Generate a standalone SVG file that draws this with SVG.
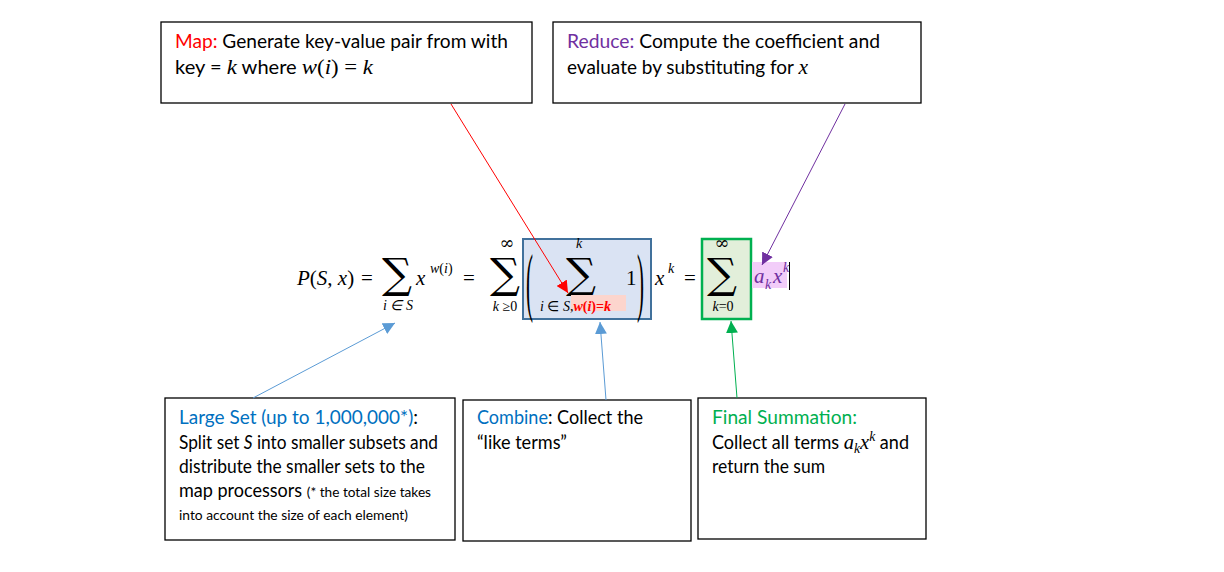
<svg xmlns="http://www.w3.org/2000/svg" width="1224" height="572" viewBox="0 0 1224 572">
<style>
.box{fill:#fff;stroke:#000;stroke-width:1.3}
.t{font-family:Lato,"Liberation Sans",sans-serif;font-size:18.5px;fill:#000}
.sm{font-size:14px}
.m{font-family:"Liberation Serif","DejaVu Serif",serif;font-size:21px;fill:#000}
.i{font-style:italic}
.sig{font-family:"DejaVu Serif",serif;font-size:42px;fill:#000}
.lim{font-family:"Liberation Serif",serif;font-size:14px;fill:#000}
.inf{font-family:"DejaVu Serif",serif;font-size:18px;fill:#000}
.pu{fill:#7030a0}
.con{fill:none;stroke-width:1}
</style>
<defs>
<marker id="aR" markerUnits="userSpaceOnUse" markerWidth="14" markerHeight="12" refX="12" refY="6" orient="auto"><path d="M0,0 L12,6 L0,12 Z" fill="#ff0000"/></marker>
<marker id="aP" markerUnits="userSpaceOnUse" markerWidth="14" markerHeight="12" refX="12" refY="6" orient="auto"><path d="M0,0 L12,6 L0,12 Z" fill="#7030a0"/></marker>
<marker id="aB" markerUnits="userSpaceOnUse" markerWidth="14" markerHeight="12" refX="12" refY="6" orient="auto"><path d="M0,0 L12,6 L0,12 Z" fill="#5b9bd5"/></marker>
<marker id="aG" markerUnits="userSpaceOnUse" markerWidth="14" markerHeight="12" refX="12" refY="6" orient="auto"><path d="M0,0 L12,6 L0,12 Z" fill="#00b050"/></marker>
</defs>
<rect width="1224" height="572" fill="#fff"/>

<g id="equation">
<rect x="523" y="239" width="128" height="80" fill="#dae3f3" stroke="#41719c" stroke-width="2"/>
<rect x="702" y="239" width="49" height="80" fill="#e2efda" stroke="#00b050" stroke-width="2.5"/>
<text class="m" x="297" y="285"><tspan class="i">P</tspan>(<tspan class="i">S</tspan>, <tspan class="i">x</tspan>)</text>
<text class="m" x="361" y="285">=</text>
<text class="sig" x="397" y="288" text-anchor="middle">∑</text>
<text class="lim i" x="398" y="310" text-anchor="middle">i ∈ S</text>
<text class="m i" x="416" y="285">x</text>
<text class="lim i" x="430" y="273" font-size="15">w<tspan font-style="normal">(</tspan>i<tspan font-style="normal">)</tspan></text>
<text class="m" x="463" y="285">=</text>
<text class="sig" x="505" y="288" text-anchor="middle">∑</text>
<text class="inf" x="507" y="249" text-anchor="middle">∞</text>
<text class="lim" x="505" y="311" text-anchor="middle"><tspan font-style="italic">k</tspan> ≥0</text>
<text class="m" transform="translate(526,307) scale(1,3.6)" font-size="22">(</text>
<text class="m" transform="translate(637,307) scale(1,3.6)" font-size="22">)</text>
<text class="sig" x="581" y="288" text-anchor="middle">∑</text>
<text class="lim i" x="579" y="248" text-anchor="middle" font-size="15">k</text>
<rect x="571" y="295" width="55" height="16" fill="#fcd5cd"/>
<text class="lim" x="540" y="311" font-size="15"><tspan font-style="italic">i</tspan> ∈ <tspan font-style="italic">S</tspan>,<tspan fill="#ff0000" font-weight="bold"><tspan font-style="italic">w</tspan>(<tspan font-style="italic">i</tspan>)=<tspan font-style="italic">k</tspan></tspan></text>
<text class="m" x="626" y="285">1</text>
<text class="m i" x="655" y="285">x</text>
<text class="lim i" x="668" y="273" font-size="15">k</text>
<text class="m" x="684" y="285">=</text>
<text class="sig" x="722" y="288" text-anchor="middle">∑</text>
<text class="inf" x="722" y="249" text-anchor="middle">∞</text>
<text class="lim i" x="723" y="311" text-anchor="middle">k<tspan font-style="normal">=0</tspan></text>
<rect x="752" y="262" width="35" height="26" fill="#f2cdf9"/>
<text class="m i pu" x="754" y="283">a</text>
<text class="lim i pu" x="765" y="289">k</text>
<text class="m i pu" x="773" y="283">x</text>
<text class="lim i pu" x="783" y="272" font-size="15">k</text>
<line x1="789.5" y1="262" x2="789.5" y2="290" stroke="#000" stroke-width="1"/>
</g>

<g id="map">
<rect class="box" x="161" y="22" width="371" height="81"/>
<text class="t" x="175" y="48" textLength="333" lengthAdjust="spacingAndGlyphs"><tspan fill="#ff0000">Map:</tspan> Generate key-value pair from with</text>
<text class="t" x="175" y="74" textLength="198" lengthAdjust="spacingAndGlyphs">key = <tspan font-family="Liberation Serif" font-style="italic" font-size="21">k</tspan> where <tspan font-family="Liberation Serif" font-size="21"><tspan font-style="italic">w</tspan>(<tspan font-style="italic">i</tspan>) = <tspan font-style="italic">k</tspan></tspan></text>
</g>

<g id="reduce">
<rect class="box" x="553" y="22" width="368" height="81"/>
<text class="t" x="567" y="48" textLength="313" lengthAdjust="spacingAndGlyphs"><tspan fill="#7030a0">Reduce:</tspan>  Compute the coefficient and</text>
<text class="t" x="567" y="74" textLength="241" lengthAdjust="spacingAndGlyphs">evaluate by substituting for <tspan font-family="Liberation Serif" font-style="italic" font-size="21">x</tspan></text>
</g>

<g id="largeset">
<rect class="box" x="165" y="398" width="290" height="142"/>
<text class="t" x="179" y="424" textLength="239" lengthAdjust="spacingAndGlyphs"><tspan fill="#0070c0">Large Set (up to 1,000,000*)</tspan>:</text>
<text class="t" x="179" y="449" textLength="259" lengthAdjust="spacingAndGlyphs">Split set <tspan font-style="italic">S</tspan> into smaller subsets and</text>
<text class="t" x="179" y="473" textLength="246" lengthAdjust="spacingAndGlyphs">distribute the smaller sets to the</text>
<text class="t" x="179" y="497" textLength="252" lengthAdjust="spacingAndGlyphs">map processors <tspan class="sm">(* the total size takes</tspan></text>
<text class="t sm" x="179" y="520" textLength="229" lengthAdjust="spacingAndGlyphs">into account the size of each element)</text>
</g>

<g id="combine">
<rect class="box" x="463" y="400" width="228" height="141"/>
<text class="t" x="477" y="424" textLength="166" lengthAdjust="spacingAndGlyphs"><tspan fill="#0070c0">Combine</tspan>: Collect the</text>
<text class="t" x="477" y="449" textLength="90" lengthAdjust="spacingAndGlyphs">“like terms”</text>
</g>

<g id="final">
<rect class="box" x="698" y="398" width="228" height="141"/>
<text class="t" x="712" y="424" textLength="145" lengthAdjust="spacingAndGlyphs"><tspan fill="#00b050">Final Summation:</tspan></text>
<text class="t" x="712" y="449" textLength="197" lengthAdjust="spacingAndGlyphs">Collect all terms <tspan font-family="Liberation Serif" font-style="italic" font-size="21">a</tspan><tspan font-family="Liberation Serif" font-style="italic" font-size="14" dy="4">k</tspan><tspan font-family="Liberation Serif" font-style="italic" font-size="21" dy="-4">x</tspan><tspan font-family="Liberation Serif" font-style="italic" font-size="14" dy="-8">k</tspan><tspan dy="8"> and</tspan></text>
<text class="t" x="712" y="473" textLength="113" lengthAdjust="spacingAndGlyphs">return the sum</text>
</g>

<g id="connectors">
<line class="con" x1="451" y1="104" x2="568" y2="293" stroke="#ff0000" marker-end="url(#aR)"/>
<line class="con" x1="845" y1="104" x2="762" y2="265" stroke="#7030a0" marker-end="url(#aP)"/>
<line class="con" x1="253" y1="398" x2="395" y2="323" stroke="#5b9bd5" marker-end="url(#aB)"/>
<line class="con" x1="606" y1="400" x2="600" y2="322" stroke="#5b9bd5" marker-end="url(#aB)"/>
<line class="con" x1="737" y1="398" x2="731" y2="321" stroke="#00b050" marker-end="url(#aG)"/>
</g>
</svg>
